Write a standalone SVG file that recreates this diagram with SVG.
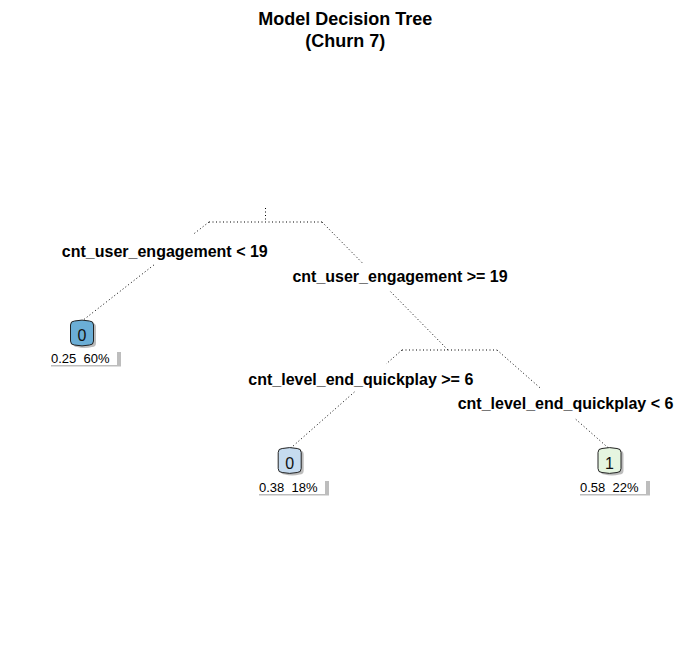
<svg xmlns="http://www.w3.org/2000/svg" width="691" height="655" viewBox="0 0 691 655">
<style>
.title{font-family:"Liberation Sans",Arial,sans-serif;font-size:18px;font-weight:bold;fill:#000;text-anchor:middle}
.split{font-family:"Liberation Sans",Arial,sans-serif;font-size:16px;font-weight:bold;fill:#000;text-anchor:middle}
.cls{font-family:"Liberation Sans",Arial,sans-serif;font-size:16px;fill:#111;text-anchor:middle}
.info{font-family:"Liberation Sans",Arial,sans-serif;font-size:13px;fill:#000;white-space:pre}
.conn line{stroke:#000;stroke-width:1;stroke-dasharray:1 2.5;fill:none}
.box{stroke:#222;stroke-width:1}
.shadow{fill:#bdbdbd}
.lblbg{fill:#fff}
</style>
<defs>
<path id="leaf" d="M-11.5,-8 Q-11.5,-12 -7.5,-12 Q0,-13.8 7.5,-12 Q11.5,-12 11.5,-8 L11.5,8 Q11.5,12 7.5,12 Q0,13.8 -7.5,12 Q-11.5,12 -11.5,8 Z"/>
</defs>
<rect width="691" height="655" fill="#fff"/>
<g id="title">
<text class="title" x="345.3" y="25">Model Decision Tree</text>
<text class="title" x="345.3" y="47">(Churn 7)</text>
</g>
<g id="connectors" class="conn">
<line x1="265.5" y1="208" x2="265.5" y2="222"/>
<line x1="209" y1="222" x2="322" y2="222"/>
<line x1="209" y1="222" x2="193.6" y2="234"/>
<line x1="153.8" y1="265" x2="82" y2="321"/>
<line x1="322" y1="222" x2="362.4" y2="263"/>
<line x1="390.6" y1="291.7" x2="448" y2="350"/>
<line x1="402" y1="350" x2="497" y2="350"/>
<line x1="402" y1="350" x2="386.1" y2="364"/>
<line x1="354.4" y1="392" x2="289.7" y2="449"/>
<line x1="497" y1="350" x2="541.7" y2="389.3"/>
<line x1="575.8" y1="419.3" x2="609.5" y2="449"/>
</g>
<g id="split-labels">
<text class="split" x="164.8" y="256.7">cnt_user_engagement &lt; 19</text>
<text class="split" x="400" y="281.7">cnt_user_engagement &gt;= 19</text>
<text class="split" x="360.8" y="385">cnt_level_end_quickplay &gt;= 6</text>
<text class="split" x="565.5" y="409">cnt_level_end_quickplay &lt; 6</text>
</g>
<g id="leaf1">
<use href="#leaf" x="84.5" y="335" class="shadow"/>
<use href="#leaf" x="82" y="333" class="box" fill="#6baed6"/>
<text class="cls" x="82" y="340.5">0</text>
<rect class="shadow" x="51" y="352" width="70" height="14.5"/>
<rect class="lblbg" x="47" y="349" width="70" height="16"/>
<text class="info" x="51" y="363" xml:space="preserve">0.25  60%</text>
</g>
<g id="leaf2">
<use href="#leaf" x="292.2" y="462.5" class="shadow"/>
<use href="#leaf" x="289.7" y="460.5" class="box" fill="#c6dbef"/>
<text class="cls" x="289.7" y="468.5">0</text>
<rect class="shadow" x="259" y="481" width="70" height="14.5"/>
<rect class="lblbg" x="255" y="478" width="70" height="16"/>
<text class="info" x="259" y="492" xml:space="preserve">0.38  18%</text>
</g>
<g id="leaf3">
<use href="#leaf" x="612" y="462.5" class="shadow"/>
<use href="#leaf" x="609.5" y="460.5" class="box" fill="#e5f5e0"/>
<text class="cls" x="609.5" y="468.5">1</text>
<rect class="shadow" x="580" y="481" width="70" height="14.5"/>
<rect class="lblbg" x="576" y="478" width="70" height="16"/>
<text class="info" x="580" y="492" xml:space="preserve">0.58  22%</text>
</g>
</svg>
